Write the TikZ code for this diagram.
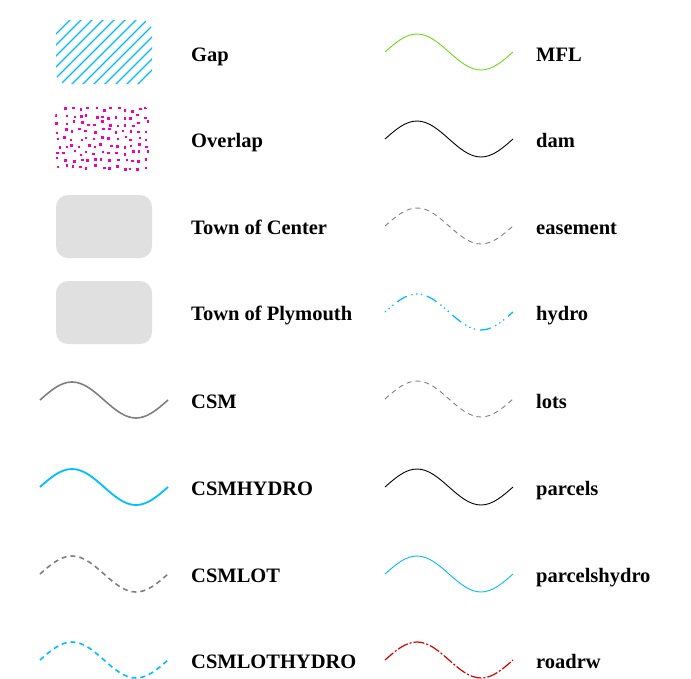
\documentclass[tikz,border=0pt]{standalone}
\usepackage{fontspec}
\setmainfont{Liberation Serif}
\usetikzlibrary{positioning}

\definecolor{hydrocyan}{RGB}{0,190,255}
\definecolor{overlapmag}{RGB}{240,0,190}
\definecolor{mflgreen}{RGB}{110,220,20}
\definecolor{towngray}{RGB}{224,224,224}
\definecolor{linegray}{RGB}{128,128,128}
\definecolor{roadred}{RGB}{220,0,0}

\begin{document}
\begin{tikzpicture}[x=1pt,y=-1pt,
  lbl/.style={anchor=base west,inner sep=0pt,font=\fontsize{20.5}{24}\selectfont\bfseries},
  townbox/.style={fill=towngray,draw=none,rounded corners=12pt}]

\useasboundingbox[fill=white] (0,0) rectangle (691,678);

% Gap
\begin{scope}
\clip[rounded corners=11pt] (56,20) rectangle (152,84);
\foreach \k in {-75,-64,...,160}
  \draw[hydrocyan,line width=1.3pt] (\k,88) -- ++(70,-70);
\end{scope}
\node[lbl] (gap) at (191,61) {Gap};

% Overlap
\begin{scope}
\clip[rounded corners=11pt] (55,106) rectangle (152,172);
\pgfmathsetseed{23}
\foreach \gx in {0,...,12}
  \foreach \gy in {0,...,8}{
    \pgfmathsetmacro{\dx}{57+7.4*\gx+2.2*rand}
    \pgfmathsetmacro{\dy}{108+7.3*\gy+2.2*rand}
    \fill[overlapmag] (\dx,\dy) rectangle ++(2.5,2.5);
  }
\end{scope}
\node[lbl] (overlap) at (191,147) {Overlap};

% Towns
\fill[townbox] (56,195) rectangle (152,258);
\node[lbl] (center) at (191,234) {Town of Center};
\fill[townbox] (56,281) rectangle (152,344);
\node[lbl] (plymouth) at (191,320) {Town of Plymouth};

% CSM lines
\draw[linegray,line width=1.6pt] (40,400) sin (72,382) cos (104,400) sin (136,418) cos (168,400);
\node[lbl] (csm) at (191,408) {CSM};
\draw[hydrocyan,line width=1.8pt] (40,487) sin (72,469) cos (104,487) sin (136,505) cos (168,487);
\node[lbl] (csmhydro) at (191,495) {CSMHYDRO};
\draw[linegray,line width=1.6pt,dash pattern=on 5pt off 4pt] (40,574) sin (72,556) cos (104,574) sin (136,592) cos (168,574);
\node[lbl] (csmlot) at (191,582) {CSMLOT};
\draw[hydrocyan,line width=1.6pt,dash pattern=on 5pt off 4pt] (40,660) sin (72,642) cos (104,660) sin (136,678) cos (168,660);
\node[lbl] (csmlothydro) at (191,668) {CSMLOTHYDRO};

% Right column
\draw[mflgreen,line width=0.9pt] (385,52) sin (417,34) cos (449,52) sin (481,70) cos (513,52);
\node[lbl] (mfl) at (536,61) {MFL};
\draw[black,line width=0.9pt] (385,139) sin (417,121) cos (449,139) sin (481,157) cos (513,139);
\node[lbl] (dam) at (536,147) {dam};
\draw[linegray,line width=0.9pt,dash pattern=on 5pt off 4pt] (385,226) sin (417,208) cos (449,226) sin (481,244) cos (513,226);
\node[lbl] (easement) at (536,234) {easement};
\draw[hydrocyan,line width=1.3pt,dash pattern=on 1.3pt off 3.5pt on 1.3pt off 3.5pt on 1.3pt off 5pt on 11pt off 5pt] (385,312) sin (417,294) cos (449,312) sin (481,330) cos (513,312);
\node[lbl] (hydro) at (536,320) {hydro};
\draw[linegray,line width=0.9pt,dash pattern=on 5pt off 4pt] (385,399) sin (417,381) cos (449,399) sin (481,417) cos (513,399);
\node[lbl] (lots) at (536,408) {lots};
\draw[black,line width=0.9pt] (385,487) sin (417,469) cos (449,487) sin (481,505) cos (513,487);
\node[lbl] (parcels) at (536,495) {parcels};
\draw[hydrocyan,line width=0.9pt] (385,574) sin (417,556) cos (449,574) sin (481,592) cos (513,574);
\node[lbl] (parcelshydro) at (536,582) {parcelshydro};
\draw[roadred,line width=1.2pt,dash pattern=on 11pt off 2pt on 2pt off 2pt] (385,660) sin (417,642) cos (449,660) sin (481,678) cos (513,660);
\node[lbl] (roadrw) at (536,668) {roadrw};

\end{tikzpicture}
\end{document}
